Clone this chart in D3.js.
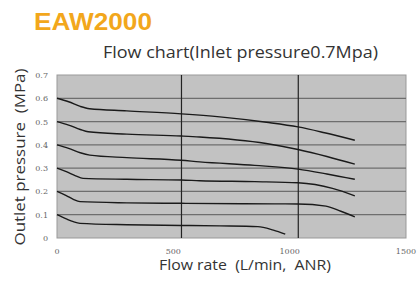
<!DOCTYPE html>
<html>
<head>
<meta charset="utf-8">
<script src="https://cdn.jsdelivr.net/npm/d3@7"></script>
<style>
  body { margin: 0; background: #fff; }
  svg { display: block; }
</style>
</head>
<body>
<div id="chart"></div>
<script>
// flow rate (L/min, ANR) sample points for each set pressure
const flow06 = [0, 50, 100, 140, 300, 535, 700, 900, 1036, 1150, 1280]
const pres06 = [0.600, 0.585, 0.565, 0.555, 0.546, 0.533, 0.520, 0.497, 0.477, 0.452, 0.420]

const flow05 = [0, 50, 100, 134, 300, 534, 613, 899, 1036, 1160, 1280]
const pres05 = [0.500, 0.485, 0.466, 0.456, 0.446, 0.438, 0.434, 0.406, 0.380, 0.350, 0.317]

const flow04 = [0, 50, 100, 141, 300, 534, 613, 850, 1036, 1160, 1280]
const pres04 = [0.400, 0.385, 0.366, 0.356, 0.345, 0.334, 0.327, 0.312, 0.296, 0.275, 0.252]

const flow03 = [0, 40, 80, 112, 300, 534, 613, 850, 1036, 1184, 1280]
const pres03 = [0.300, 0.285, 0.267, 0.256, 0.252, 0.249, 0.246, 0.242, 0.237, 0.213, 0.181]

const flow02 = [0, 40, 70, 99, 300, 534, 800, 1036, 1156, 1220, 1280]
const pres02 = [0.200, 0.182, 0.166, 0.156, 0.151, 0.149, 0.147, 0.146, 0.137, 0.115, 0.091]

const flow01 = [0, 40, 70, 99, 300, 534, 700, 863, 930, 981]
const pres01 = [0.100, 0.082, 0.070, 0.063, 0.057, 0.054, 0.052, 0.049, 0.034, 0.017]

const xTicks = [0, 500, 1000, 1500]
const yTicks = [0, 0.1, 0.2, 0.3, 0.4, 0.5, 0.6, 0.7]
const yGrid = [0.1, 0.2, 0.3, 0.4, 0.5, 0.6]
const xGrid = [535, 1037]   // the scanned grid sits a bit right of the labels

const series = [
    [flow06, pres06], [flow05, pres05], [flow04, pres04],
    [flow03, pres03], [flow02, pres02], [flow01, pres01]
].map(([f, p]) => f.map((d, i) => ({ flow: d, pres: p[i] })))

const width = 417, height = 283
const plot = { left: 57, top: 75, right: 406, bottom: 238 }
const sans = "'Open Sans', 'Noto Sans', sans-serif"

const svg = d3.select("#chart").append("svg")
    .attr("width", width)
    .attr("height", height)

const x = d3.scaleLinear()
    .domain([0, 1500])
    .range([plot.left, plot.right])

const y = d3.scaleLinear()
    .domain([0, 0.7])
    .range([plot.bottom, plot.top])

// titles
svg.append("text")
    .attr("x", 34).attr("y", 30)
    .attr("font-family", "Arial, 'Liberation Sans', sans-serif")
    .attr("font-weight", "bold")
    .attr("font-size", 24)
    .attr("textLength", 118)
    .attr("lengthAdjust", "spacingAndGlyphs")
    .attr("fill", "#f2a71c")
    .text("EAW2000")

svg.append("text")
    .attr("x", 103).attr("y", 58)
    .attr("font-family", sans)
    .attr("font-size", 15.5)
    .attr("textLength", 275)
    .attr("lengthAdjust", "spacingAndGlyphs")
    .attr("fill", "#333")
    .text("Flow chart(Inlet pressure0.7Mpa)")

// plot background
svg.append("rect")
    .attr("x", plot.left).attr("y", plot.top)
    .attr("width", plot.right - plot.left)
    .attr("height", plot.bottom - plot.top)
    .attr("fill", "#c2c2c2")
    .attr("stroke", "#999")
    .attr("stroke-width", 1)

svg.append("g").selectAll("line")
    .data(yGrid)
    .join("line")
        .attr("x1", plot.left).attr("x2", plot.right)
        .attr("y1", d => y(d)).attr("y2", d => y(d))
        .attr("stroke", "#6e6e6e")
        .attr("stroke-width", 1.3)

svg.append("g").selectAll("line")
    .data(xGrid)
    .join("line")
        .attr("x1", d => x(d)).attr("x2", d => x(d))
        .attr("y1", plot.top).attr("y2", plot.bottom)
        .attr("stroke", "#222")
        .attr("stroke-width", 1.2)

// curves
const line = d3.line()
    .x(d => x(d.flow))
    .y(d => y(d.pres))
    .curve(d3.curveMonotoneX)

svg.append("g").selectAll("path")
    .data(series)
    .join("path")
        .attr("d", line)
        .attr("fill", "none")
        .attr("stroke", "#1a1a1a")
        .attr("stroke-width", 1.4)

// tick labels
const tickFont = "'DejaVu Serif', 'Liberation Serif', serif"

svg.append("g").selectAll("text")
    .data(yTicks)
    .join("text")
        .attr("x", 48)
        .attr("y", d => y(d) + 3)
        .attr("text-anchor", "end")
        .attr("font-family", tickFont)
        .attr("font-size", 8)
        .attr("fill", "#666")
        .text(d => d === 0 ? "0" : d3.format(".1f")(d))

svg.append("g").selectAll("text")
    .data(xTicks)
    .join("text")
        .attr("x", d => x(d))
        .attr("y", 254)
        .attr("text-anchor", "middle")
        .attr("font-family", tickFont)
        .attr("font-size", 8)
        .attr("fill", "#666")
        .text(d => d)

// axis titles
svg.append("text")
    .attr("x", 245).attr("y", 270)
    .attr("text-anchor", "middle")
    .attr("font-family", sans)
    .attr("font-size", 14)
    .attr("textLength", 172)
    .attr("lengthAdjust", "spacingAndGlyphs")
    .attr("fill", "#333")
    .style("white-space", "pre")
    .text("Flow rate  (L/min,  ANR)")

svg.append("text")
    .attr("transform", "translate(25,157) rotate(-90)")
    .attr("text-anchor", "middle")
    .attr("font-family", sans)
    .attr("font-size", 15)
    .attr("textLength", 177)
    .attr("lengthAdjust", "spacingAndGlyphs")
    .attr("fill", "#333")
    .style("white-space", "pre")
    .text("Outlet pressure  (MPa)")
</script>
</body>
</html>
